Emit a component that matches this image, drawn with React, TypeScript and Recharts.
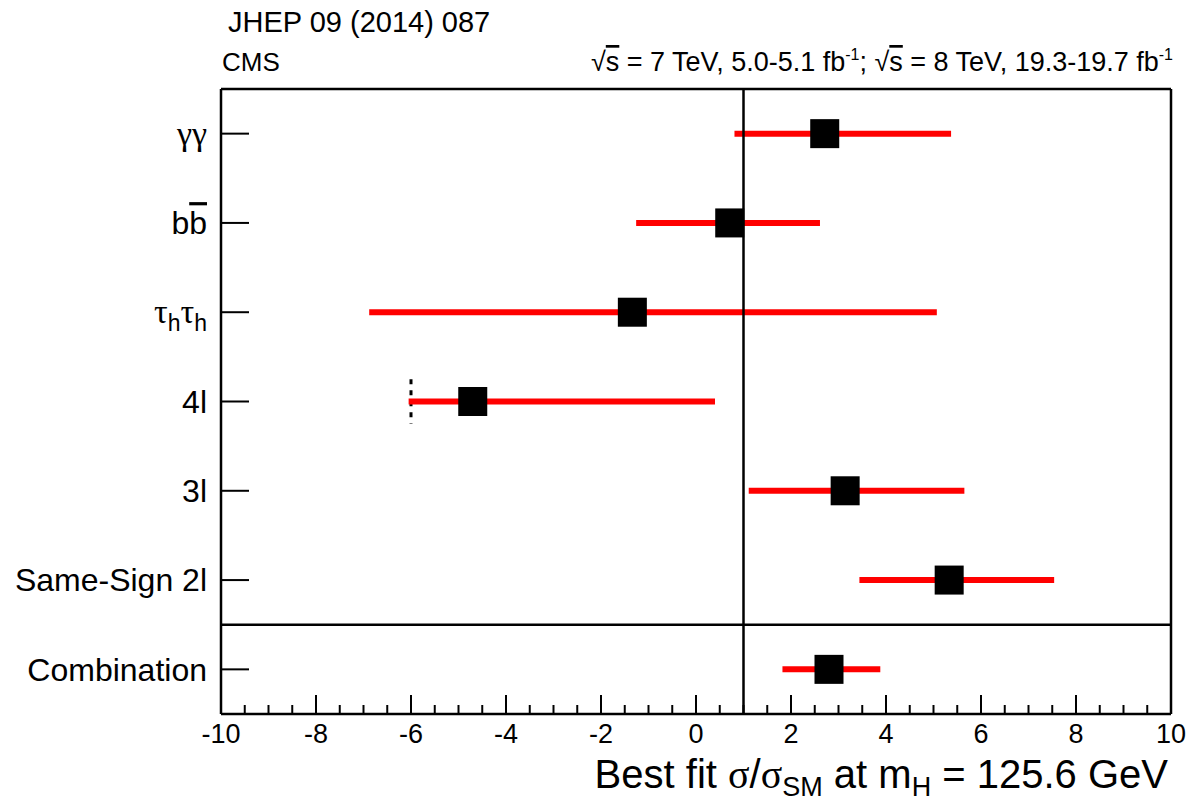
import React from "react";
import { ScatterChart, Scatter, XAxis, YAxis, ErrorBar, ReferenceLine } from "recharts";

// channels, top to bottom
const categories = ["γγ", "bb̄", "τhτh", "4l", "3l", "Same-Sign 2l", "Combination"];
const bestFit = [2.71, 0.71, -1.34, -4.7, 3.14, 5.33, 2.8];
const lowerEdge = [0.81, -1.26, -6.88, -6.05, 1.11, 3.44, 1.82];
const upperEdge = [5.37, 2.61, 5.07, 0.4, 5.65, 7.54, 3.88];

const fourLeptonLimit = -6; // dashed marker at the 4l lower bound
const smValue = 1;
const groupDivider = 1; // between the channels and the combination
const xMajorTicks = [-10, -8, -6, -4, -2, 0, 2, 4, 6, 8, 10];

const W = 1187;
const H = 804;
const SANS = "'Liberation Sans', Arial, Helvetica, sans-serif";
const SERIF = "'Liberation Serif', 'Times New Roman', serif";
const X_MARGIN = 8;
const Y_MARGIN = 14;

const rows = categories.map((name, i) => ({
  name,
  pos: categories.length - 0.5 - i,
  value: bestFit[i],
  err: [bestFit[i] - lowerEdge[i], upperEdge[i] - bestFit[i]],
}));

const yTicks = rows.map((r) => r.pos);

const xTicks: number[] = [];
for (let v = xMajorTicks[0]; v <= xMajorTicks[xMajorTicks.length - 1] + 1e-9; v += 0.5) {
  xTicks.push(Math.round(v * 2) / 2);
}

const fourL = rows[categories.indexOf("4l")];

function XTick(props: any) {
  const { x, y, payload } = props;
  const v = payload.value;
  const major = Math.abs(v % 2) < 1e-6;
  const axisY = y - X_MARGIN;
  return (
    <g>
      <line x1={x} x2={x} y1={axisY} y2={axisY - (major ? 19 : 9)} stroke="#000" strokeWidth={2} />
      {major && (
        <text x={x} y={axisY + 29} textAnchor="middle" fontSize={27} fontFamily={SANS} fill="#000">
          {v}
        </text>
      )}
    </g>
  );
}

function labelContent(name: string) {
  if (name === "γγ") return <tspan fontFamily={SERIF} fontSize={34}>γγ</tspan>;
  if (name === "bb̄")
    return (
      <>
        <tspan>b</tspan>
        <tspan style={{ textDecoration: "overline" }}>b</tspan>
      </>
    );
  if (name === "τhτh")
    return (
      <>
        <tspan fontFamily={SERIF} fontSize={34}>τ</tspan>
        <tspan fontSize={23} dy={8}>h</tspan>
        <tspan fontFamily={SERIF} fontSize={34} dy={-8}>τ</tspan>
        <tspan fontSize={23} dy={8}>h</tspan>
      </>
    );
  return name;
}

function YTick(props: any) {
  const { x, y, payload } = props;
  const row = rows.find((r) => Math.abs(r.pos - payload.value) < 1e-6);
  const axisX = x + Y_MARGIN;
  return (
    <g>
      <line x1={axisX} x2={axisX + 28} y1={y} y2={y} stroke="#000" strokeWidth={2} />
      <text x={x} y={y} dy="0.35em" textAnchor="end" fontSize={32} fontFamily={SANS} fill="#000">
        {row ? labelContent(row.name) : null}
      </text>
    </g>
  );
}

function SquareMarker(props: any) {
  const { cx, cy } = props;
  return <rect x={cx - 14.5} y={cy - 14.5} width={29} height={29} fill="#000" />;
}

export default function App() {
  return (
    <div style={{ position: "absolute", left: 0, top: 0, width: W, height: H, fontFamily: SANS }}>
      <ScatterChart width={W} height={H} margin={{ top: 89, right: 16, bottom: 50, left: 0 }}>
        <XAxis
          type="number"
          dataKey="value"
          domain={[-10, 10]}
          ticks={xTicks}
          interval={0}
          allowDataOverflow
          height={40}
          tickSize={0}
          tickMargin={X_MARGIN}
          tickLine={false}
          tick={(p: any) => <XTick {...p} />}
          axisLine={{ stroke: "#000", strokeWidth: 2.5 }}
        />
        <YAxis
          type="number"
          dataKey="pos"
          domain={[0, categories.length]}
          ticks={yTicks}
          interval={0}
          allowDataOverflow
          width={221}
          tickSize={0}
          tickMargin={Y_MARGIN}
          tickLine={false}
          tick={(p: any) => <YTick {...p} />}
          axisLine={{ stroke: "#000", strokeWidth: 2.5 }}
        />
        <ReferenceLine y={categories.length} stroke="#000" strokeWidth={2.5} />
        <ReferenceLine x={10} stroke="#000" strokeWidth={2.5} />
        <ReferenceLine y={groupDivider} stroke="#000" strokeWidth={2.5} />
        <ReferenceLine
          segment={[
            { x: fourLeptonLimit, y: fourL.pos + 0.25 },
            { x: fourLeptonLimit, y: fourL.pos - 0.25 },
          ]}
          stroke="#000"
          strokeWidth={3}
          strokeDasharray="5 6"
        />
        <Scatter data={rows} shape={(p: any) => <SquareMarker {...p} />} isAnimationActive={false}>
          <ErrorBar dataKey="err" direction="x" width={0} stroke="#ff0000" strokeWidth={6} />
        </Scatter>
        <ReferenceLine x={smValue} stroke="#000" strokeWidth={2.5} />
      </ScatterChart>
      <svg
        width={W}
        height={H}
        style={{ position: "absolute", left: 0, top: 0, pointerEvents: "none" }}
        fontFamily={SANS}
        fill="#000"
      >
        <text x={228} y={32} fontSize={29}>
          JHEP 09 (2014) 087
        </text>
        <text x={222} y={71} fontSize={26}>
          CMS
        </text>
        <text x={1173} y={71} fontSize={27} textAnchor="end">
          √<tspan style={{ textDecoration: "overline" }}>s</tspan> = 7 TeV, 5.0-5.1 fb
          <tspan fontSize={16} dy={-11}>-1</tspan>
          <tspan dy={11}>; √</tspan>
          <tspan style={{ textDecoration: "overline" }}>s</tspan> = 8 TeV, 19.3-19.7 fb
          <tspan fontSize={16} dy={-11}>-1</tspan>
        </text>
        <text x={1168} y={788} fontSize={40} textAnchor="end">
          Best fit <tspan fontFamily={SERIF}>σ</tspan>/<tspan fontFamily={SERIF}>σ</tspan>
          <tspan fontSize={27} dy={8}>SM</tspan>
          <tspan dy={-8}> at m</tspan>
          <tspan fontSize={27} dy={8}>H</tspan>
          <tspan dy={-8}> = 125.6 GeV</tspan>
        </text>
      </svg>
    </div>
  );
}
